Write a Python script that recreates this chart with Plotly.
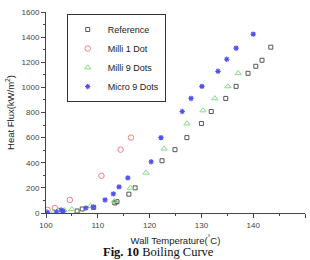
import plotly.graph_objects as go

# Reference (open squares)
ref_t = [106.0, 107.0, 109.2, 113.3, 113.7, 116.0, 117.2, 122.4, 124.9, 127.2, 130.0, 131.9, 134.7, 136.7, 139.0, 140.5, 141.7, 143.4]
ref_q = [16, 32, 45, 80, 90, 150, 200, 416, 504, 600, 712, 808, 912, 1008, 1112, 1168, 1216, 1320]

# Milli 1 Dot (open circles)
m1_t = [100.3, 101.7, 104.6, 110.7, 114.4, 116.4]
m1_q = [25, 40, 104, 296, 504, 600]

# Milli 9 Dots (open triangles)
m9_t = [100.2, 101.5, 102.5, 103.5, 105.0, 108.6, 113.2, 116.3, 119.3, 122.8, 127.2, 130.3, 132.6, 135.1, 137.1]
m9_q = [8, 10, 20, 22, 30, 55, 95, 200, 320, 512, 712, 816, 912, 1008, 1112]

# Micro 9 Dots (asterisks)
u9_t = [100.2, 102.0, 102.9, 103.3, 107.7, 109.1, 111.4, 113.0, 114.1, 115.8, 120.3, 122.2, 126.3, 128.0, 130.1, 133.2, 134.9, 136.7, 140.0]
u9_q = [5, 8, 24, 15, 40, 48, 104, 152, 208, 280, 408, 600, 808, 912, 1008, 1128, 1224, 1312, 1424]

fig = go.Figure()
fig.add_trace(go.Scatter(x=ref_t, y=ref_q, mode="markers", name="Reference",
                         marker=dict(symbol="square-open", size=4, color="#555555", line=dict(width=1))))
fig.add_trace(go.Scatter(x=m1_t, y=m1_q, mode="markers", name="Milli 1 Dot",
                         marker=dict(symbol="circle-open", size=5.5, color="#f08080", line=dict(width=1))))
fig.add_trace(go.Scatter(x=m9_t, y=m9_q, mode="markers", name="Milli 9 Dots",
                         marker=dict(symbol="triangle-up-open", size=5.5, color="#80e080", line=dict(width=1))))
fig.add_trace(go.Scatter(x=u9_t, y=u9_q, mode="markers", name="Micro 9 Dots",
                         marker=dict(symbol="asterisk-open", size=4.5, color="#5050f0", line=dict(width=1.2, color="#5050f0"))))

axis_font = dict(family="Liberation Sans, Arial", size=8, color="#444444")
title_font = dict(family="Liberation Sans, Arial", size=9.5, color="#222222")
fig.update_layout(
    width=310, height=260,
    margin=dict(l=46, r=5, t=12, b=47),
    paper_bgcolor="white", plot_bgcolor="white",
    showlegend=True,
    legend=dict(x=0.08, y=0.99, xanchor="left", yanchor="top",
                bordercolor="#333333", borderwidth=1, bgcolor="white",
                font=dict(family="Liberation Sans, Arial", size=9, color="#222222"),
                itemwidth=30, tracegroupgap=0),
    xaxis=dict(range=[100, 150], dtick=10, tick0=100, showgrid=False, zeroline=False,
               showline=True, linecolor="#444444", linewidth=1,
               ticks="outside", ticklen=4, tickcolor="#444444",
               minor=dict(ticks="outside", dtick=5, ticklen=2, tickcolor="#444444"),
               tickfont=axis_font,
               title=dict(text="Wall Temperature(<sup>°</sup>C)", font=title_font, standoff=8)),
    yaxis=dict(range=[0, 1600], dtick=200, tick0=0, showgrid=False, zeroline=False,
               showline=True, linecolor="#444444", linewidth=1,
               ticks="outside", ticklen=4, tickcolor="#444444",
               minor=dict(ticks="outside", dtick=100, ticklen=2, tickcolor="#444444"),
               tickfont=axis_font,
               title=dict(text="Heat Flux(kW/m<sup>2</sup>)", font=title_font, standoff=5)),
    annotations=[dict(text="<b>Fig. 10</b> Boiling Curve", xref="paper", yref="paper",
                      x=(158 - 46) / 259, y=-(244 - 213) / 201, xanchor="center", yanchor="top",
                      borderpad=0, showarrow=False,
                      font=dict(family="Liberation Serif, Times New Roman", size=12.5, color="#111111"))],
)

fig.write_html("out.html")
